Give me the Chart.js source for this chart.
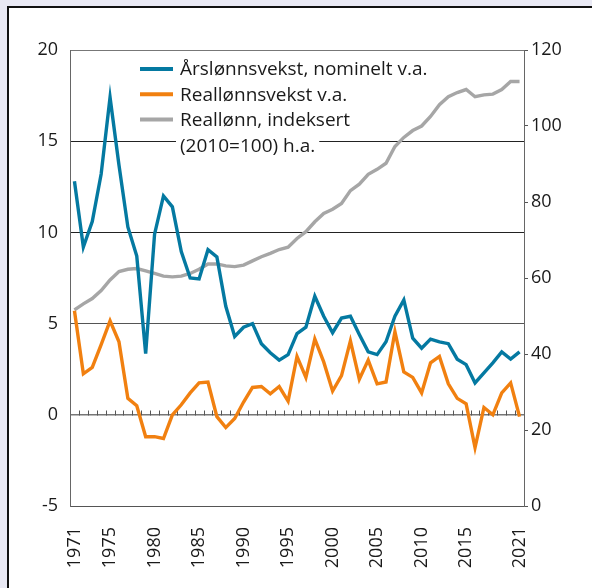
<!DOCTYPE html>
<html>
<head>
<meta charset="utf-8">
<script src="https://cdn.jsdelivr.net/npm/chart.js@4.4.1/dist/chart.umd.min.js"></script>
<style>
  html, body { margin: 0; padding: 0; background: #e9e9f4; }
  #wrap { position: absolute; left: 0; top: 0; width: 592px; height: 588px; }
</style>
</head>
<body>
<div id="wrap"><canvas id="myChart" width="592" height="588"></canvas></div>
<script>
const years = [1971, 1972, 1973, 1974, 1975, 1976, 1977, 1978, 1979, 1980,
  1981, 1982, 1983, 1984, 1985, 1986, 1987, 1988, 1989, 1990,
  1991, 1992, 1993, 1994, 1995, 1996, 1997, 1998, 1999, 2000,
  2001, 2002, 2003, 2004, 2005, 2006, 2007, 2008, 2009, 2010,
  2011, 2012, 2013, 2014, 2015, 2016, 2017, 2018, 2019, 2020, 2021];

// Årslønnsvekst, nominelt (venstre akse)
const nominal = [12.8, 9.2, 10.6, 13.2, 17.4, 13.7, 10.3, 8.7, 3.35, 9.9,
  12.0, 11.4, 8.95, 7.5, 7.45, 9.05, 8.65, 5.95, 4.3, 4.8,
  5.0, 3.9, 3.4, 3.0, 3.3, 4.45, 4.8, 6.5, 5.4, 4.5,
  5.3, 5.4, 4.4, 3.45, 3.3, 4.0, 5.4, 6.3, 4.2, 3.65,
  4.15, 4.0, 3.9, 3.05, 2.75, 1.75, 2.3, 2.85, 3.45, 3.05, 3.45];

// Reallønnsvekst (venstre akse)
const realGrowth = [5.7, 2.25, 2.6, 3.85, 5.15, 4.0, 0.9, 0.5, -1.2, -1.2,
  -1.3, 0.0, 0.55, 1.2, 1.75, 1.8, -0.1, -0.7, -0.2, 0.7,
  1.5, 1.55, 1.15, 1.55, 0.75, 3.2, 2.05, 4.15, 2.9, 1.3,
  2.15, 4.05, 1.95, 3.0, 1.7, 1.8, 4.55, 2.35, 2.05, 1.2,
  2.85, 3.2, 1.7, 0.9, 0.6, -1.8, 0.4, 0.0, 1.2, 1.75, -0.1];

// Reallønn, indeksert 2010=100 (høyre akse)
const realIndex = [51.6, 53.2, 54.6, 56.7, 59.5, 61.7, 62.3, 62.5, 61.9, 61.2,
  60.5, 60.3, 60.5, 61.2, 62.3, 63.7, 63.7, 63.2, 63.0, 63.4,
  64.5, 65.6, 66.5, 67.5, 68.1, 70.4, 72.2, 74.8, 77.0, 78.1,
  79.6, 83.0, 84.7, 87.3, 88.6, 90.2, 94.6, 97.0, 98.8, 100.0,
  102.5, 105.6, 107.7, 108.8, 109.6, 107.7, 108.2, 108.4, 109.6, 111.7, 111.7];

const xTicks = [1971, 1975, 1980, 1985, 1990, 1995, 2000, 2005, 2010, 2015, 2021];
const leftTicks = [-5, 0, 5, 10, 15, 20];
const rightTicks = [0, 20, 40, 60, 80, 100, 120];

const legendLabels = [
  ["Årslønnsvekst, nominelt v.a."],
  ["Reallønnsvekst v.a."],
  ["Reallønn, indeksert", "(2010=100) h.a."],
];

const blue = "#0479a1";
const orange = "#f18010";
const grey = "#a6a6a6";
const fontName = "'Open Sans', sans-serif";

const toPoints = (arr) => arr.map((v, i) => ({ x: years[i], y: v }));

// bakgrunn med ramme
const framePlugin = {
  id: "frame",
  beforeDraw(chart) {
    const c = chart.ctx;
    c.save();
    c.fillStyle = "#e9e9f4";
    c.fillRect(0, 0, chart.width, chart.height);
    c.fillStyle = "#ffffff";
    c.fillRect(9, 8, chart.width - 9, chart.height - 8);
    c.fillStyle = "#111111";
    c.fillRect(7, 6, 2, chart.height - 6);
    c.fillRect(7, 6, chart.width - 7, 2);
    c.restore();
  },
};

// små streker langs nullinjen mellom årene
const zeroTicksPlugin = {
  id: "zeroTicks",
  beforeDatasetsDraw(chart) {
    const c = chart.ctx;
    const x = chart.scales.x;
    const y0 = Math.round(chart.scales.y.getPixelForValue(0)) + 0.5;
    c.save();
    c.strokeStyle = "#555";
    c.lineWidth = 1;
    c.beginPath();
    for (let i = 0; i < years.length - 1; i++) {
      const px = Math.round(x.getPixelForValue(years[i] + 0.5)) + 0.5;
      c.moveTo(px, y0);
      c.lineTo(px, y0 - 5);
    }
    c.stroke();
    c.restore();
  },
};

const legendPlugin = {
  id: "innerLegend",
  afterDatasetsDraw(chart) {
    const c = chart.ctx;
    const colors = [blue, orange, grey];
    c.save();
    c.font = "19px " + fontName;
    c.textBaseline = "middle";
    let row = 0;
    legendLabels.forEach((lines, i) => {
      const yy = 69 + row * 25.3;
      c.strokeStyle = colors[i];
      c.lineWidth = 4;
      c.beginPath();
      c.moveTo(140, yy);
      c.lineTo(173, yy);
      c.stroke();
      lines.forEach((t, j) => {
        const ty = yy + j * 25.5;
        const w = c.measureText(t).width;
        c.fillStyle = "#ffffff";
        c.fillRect(176, ty - 11, w + 8, 22);
        c.fillStyle = "#1a1a1a";
        c.fillText(t, 180, ty + 1);
      });
      row += lines.length;
    });
    c.restore();
  },
};

const ctx = document.getElementById("myChart").getContext("2d");
const myChart = new Chart(ctx, {
  type: "line",
  data: {
    datasets: [
      { label: legendLabels[0].join(" "), data: toPoints(nominal), borderColor: blue, yAxisID: "y" },
      { label: legendLabels[1].join(" "), data: toPoints(realGrowth), borderColor: orange, yAxisID: "y" },
      { label: legendLabels[2].join(" "), data: toPoints(realIndex), borderColor: grey, yAxisID: "y2" },
    ],
  },
  options: {
    responsive: false,
    animation: false,
    devicePixelRatio: 1,
    layout: { padding: { top: 50, left: 0, right: 0, bottom: 0 } },
    elements: {
      line: { borderWidth: 3.4, tension: 0, borderJoinStyle: "miter", borderCapStyle: "butt" },
      point: { radius: 0 },
    },
    plugins: { legend: { display: false }, tooltip: { enabled: false } },
    scales: {
      x: {
        type: "linear",
        min: 1970.5,
        max: 2021.5,
        afterBuildTicks: (s) => { s.ticks = xTicks.map((v) => ({ value: v })); },
        afterFit: (s) => { s.height = 82; },
        grid: { display: false },
        border: { display: true, color: "#555", width: 1 },
        ticks: {
          autoSkip: false,
          minRotation: 90,
          maxRotation: 90,
          padding: 13,
          color: "#1a1a1a",
          font: { family: fontName, size: 18 },
          callback: (v) => String(v),
        },
      },
      y: {
        position: "left",
        min: -5,
        max: 20,
        afterBuildTicks: (s) => { s.ticks = leftTicks.map((v) => ({ value: v })); },
        afterFit: (s) => { s.width = 70; },
        border: { display: true, color: "#666", width: 1 },
        grid: {
          drawTicks: false,
          color: (c) => {
            const v = c.tick.value;
            if (v === -5) return "rgba(0,0,0,0)";
            if (v === 20 || v === 0) return "#777";
            if (v === 5) return "#555";
            return "#222";
          },
          lineWidth: (c) => (c.tick.value === 0 ? 1.5 : 1),
        },
        ticks: {
          padding: 12,
          color: "#1a1a1a",
          font: { family: fontName, size: 18 },
        },
      },
      y2: {
        position: "right",
        min: 0,
        max: 120,
        afterBuildTicks: (s) => { s.ticks = rightTicks.map((v) => ({ value: v })); },
        afterFit: (s) => { s.width = 68; },
        border: { display: true, color: "#666", width: 1 },
        grid: { drawOnChartArea: false, drawTicks: true, tickLength: 4, color: "#555" },
        ticks: {
          padding: 3,
          color: "#1a1a1a",
          font: { family: fontName, size: 18 },
        },
      },
    },
  },
  plugins: [framePlugin, zeroTicksPlugin, legendPlugin],
});
</script>
</body>
</html>
